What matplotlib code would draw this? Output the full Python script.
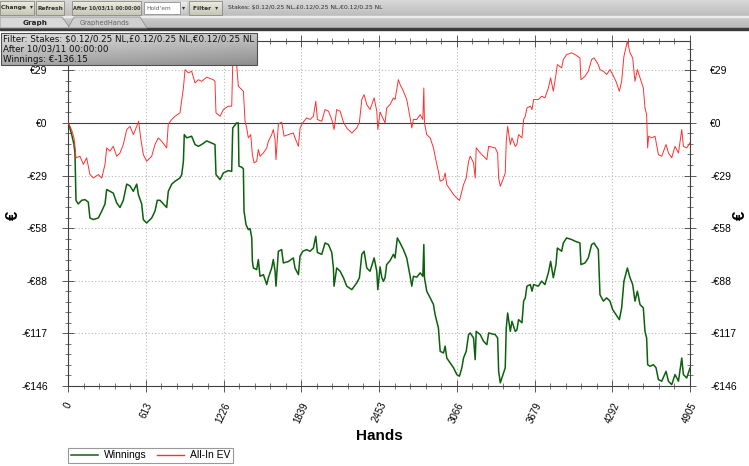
import numpy as np
import matplotlib
matplotlib.use("Agg")
import matplotlib.pyplot as plt
from matplotlib.patches import Rectangle, Polygon
from matplotlib.ticker import AutoMinorLocator

# dati (mani, euro)
hands_win = [0, 3, 29, 47, 55, 63, 81, 108, 134, 160, 173, 200, 239, 266, 292, 305, 331, 357, 384, 410,
             436, 463, 489, 515, 542, 555, 581, 594, 620, 660, 686, 704, 726, 752, 778, 791, 818, 844, 883, 897,
             910, 917, 936, 975, 1002, 1028, 1054, 1094, 1146, 1159, 1167, 1199, 1225, 1264, 1291, 1299, 1330, 1343, 1348, 1370,
             1383, 1388, 1404, 1422, 1436, 1449, 1454, 1462, 1488, 1501, 1514, 1541, 1567, 1580, 1606, 1619, 1633, 1640, 1659, 1685,
             1698, 1738, 1777, 1790, 1817, 1830, 1851, 1882, 1909, 1935, 1954, 1967, 2001, 2027, 2054, 2080, 2093, 2098, 2119, 2146,
             2172, 2198, 2238, 2277, 2298, 2317, 2335, 2356, 2382, 2414, 2435, 2443, 2461, 2475, 2488, 2500, 2513, 2540, 2566, 2579,
             2597, 2619, 2645, 2671, 2698, 2711, 2724, 2750, 2777, 2798, 2806, 2811, 2829, 2856, 2882, 2895, 2921, 2935, 2961, 2974,
             2987, 3014, 3040, 3066, 3087, 3106, 3119, 3140, 3159, 3172, 3198, 3211, 3219, 3251, 3277, 3303, 3317, 3369, 3388, 3396,
             3409, 3430, 3448, 3456, 3467, 3488, 3501, 3527, 3540, 3553, 3580, 3593, 3606, 3619, 3646, 3659, 3672, 3709, 3735, 3761,
             3788, 3806, 3827, 3848, 3859, 3893, 3906, 3932, 3972, 3998, 4037, 4045, 4077, 4103, 4129, 4148, 4182, 4195, 4222, 4248,
             4274, 4295, 4321, 4348, 4366, 4384, 4411, 4432, 4453, 4471, 4490, 4511, 4537, 4550, 4563, 4571, 4590, 4616, 4637, 4656,
             4682, 4716, 4735, 4761, 4787, 4814, 4840, 4853, 4879, 4905]
winnings = [0, 0, -6.5, -12, -16.7, -43, -45, -43, -42.6, -44, -52.8, -53.7, -52.8, -49, -45, -37, -38, -39, -44.4, -47,
            -43, -34, -35, -38, -34, -39.8, -45, -53.7, -55.6, -52.8, -49, -43, -43, -45, -47, -38, -34, -32.4, -30.6, -28.7,
            -21.3, -6.5, -8.3, -7.4, -12, -13, -12, -10, -11.6, -12, -28.7, -31.5, -27.8, -26.5, -26.9, -2.8, 0, 0, -24, -24.6,
            -25.5, -49, -56.5, -59.3, -58.7, -63.9, -76.9, -80.6, -81.5, -75.9, -85.2, -84.3, -89.8, -86, -80.6, -75.9, -82.4, -90.7, -71.3, -70.4,
            -77.8, -77, -75, -80.6, -84.3, -74, -71.3, -70.4, -71.3, -69.5, -63, -72, -73, -66.7, -67.6, -72, -80.6, -90.7, -80.6, -82.4,
            -86, -90.7, -92.6, -88.9, -86, -73, -71.3, -80.6, -82.4, -75, -82.4, -92.6, -80, -86, -88, -86, -78.7, -76.5, -73, -75,
            -63.9, -66.7, -70.4, -75, -85.2, -90.7, -85.2, -85.7, -83.3, -85.2, -67.6, -86, -93.5, -97.2, -100.9, -106.5, -113.9, -126.9, -127.8, -124,
            -130.6, -133.3, -136, -139.8, -140.7, -136, -130.6, -126.9, -117.6, -116.7, -119.5, -131.5, -115.8, -117.6, -121.3, -123.2, -116.7, -117.6, -119.5, -138,
            -144.4, -139.8, -136, -113.9, -105.6, -115.8, -110.2, -115.8, -115, -109.3, -111, -99, -97.2, -90.7, -89.8, -93.5, -89.8, -90.7, -87.9, -89.8,
            -83.3, -76.9, -86, -78.7, -69.5, -71.3, -66.7, -63.9, -64.8, -65.7, -66.7, -78.7, -77.8, -75, -67.6, -66.7, -70.4, -95.4, -99, -97.2,
            -99, -103.7, -106.5, -109.3, -102.8, -88, -80.6, -86, -89.8, -99, -93.5, -100.9, -102.8, -115.8, -119.5, -134.3, -135.2, -134.3, -136, -142.6,
            -143.5, -138, -143.5, -145.4, -139.8, -143.5, -130.6, -139.8, -141.7, -136.15]

hands_ev = [0, 3, 29, 47, 55, 63, 94, 121, 147, 173, 200, 239, 266, 292, 305, 331, 357, 384, 410, 436,
            463, 489, 515, 542, 557, 573, 594, 620, 660, 686, 712, 739, 778, 791, 818, 844, 883, 897, 910, 923,
            949, 975, 1002, 1028, 1054, 1094, 1146, 1159, 1167, 1199, 1225, 1264, 1291, 1299, 1317, 1330, 1343, 1370, 1383, 1396,
            1409, 1422, 1441, 1454, 1467, 1488, 1501, 1514, 1541, 1567, 1580, 1606, 1619, 1633, 1640, 1659, 1685, 1704, 1738, 1777,
            1790, 1817, 1830, 1851, 1882, 1909, 1935, 1954, 1967, 2001, 2027, 2054, 2080, 2098, 2119, 2146, 2172, 2198, 2238, 2277,
            2298, 2317, 2335, 2356, 2382, 2414, 2435, 2443, 2461, 2487, 2500, 2513, 2540, 2566, 2579, 2605, 2619, 2645, 2671, 2698,
            2711, 2724, 2750, 2777, 2798, 2806, 2811, 2829, 2856, 2882, 2903, 2921, 2935, 2961, 2974, 2987, 3014, 3040, 3066, 3087,
            3106, 3119, 3140, 3159, 3172, 3198, 3211, 3219, 3251, 3277, 3303, 3317, 3369, 3388, 3396, 3409, 3430, 3448, 3456, 3467,
            3488, 3501, 3527, 3540, 3553, 3580, 3593, 3606, 3619, 3646, 3659, 3672, 3709, 3735, 3761, 3788, 3806, 3827, 3848, 3859,
            3893, 3906, 3932, 3972, 3998, 4037, 4045, 4077, 4103, 4129, 4148, 4182, 4195, 4222, 4248, 4274, 4295, 4321, 4348, 4366,
            4384, 4411, 4432, 4453, 4471, 4490, 4511, 4537, 4550, 4563, 4571, 4579, 4603, 4629, 4656, 4682, 4716, 4735, 4761, 4787,
            4814, 4840, 4853, 4879, 4905]
allin_ev = [0, 0, -4, -8.3, -12.9, -19.4, -18.5, -23, -19.4, -28.7, -30.6, -28.7, -30.6, -23, -13.9, -15.7, -13, -18.5, -16.7, -12,
            -3.7, -1.9, -6.5, -1.9, 0.9, -8.3, -17.6, -21.3, -18.5, -12, -8.3, -10.2, -13.9, -0.6, 1.9, 3.7, 5.6, 12.9, 19.4, 29.6,
            27.8, 28.7, 22.2, 24, 23.1, 25.4, 24, 23, 5.6, 3.7, 7.4, 9.3, 9.3, 32.4, 40, 32.4, 20.4, 18.5, 17.6, 0.9,
            -2.8, -8.3, -6.5, -17.6, -22.2, -21.3, -14.8, -18.5, -16.7, -13.9, -10.2, -6.5, -3.7, -9.3, -20.4, -0.6, 0.4, -7.4, -6.5, -5.6,
            -8.3, -13, -2.8, 0, 2.8, 1.9, 3.7, 12, 1.9, 0.9, 7.4, 6.5, 1.9, -3.7, 7.4, 6.5, 0.4, -2.8, -5.6, -2.8,
            0.4, 13, 15.7, 10.2, 7.4, 13.9, 6.5, -3.7, 6, 1.9, 0, 8.3, 10.2, 13.9, 13, 24, 21.3, 17.6, 13, 2.8,
            -2.8, 1.9, 1.9, 4.6, 1.9, 19.4, 0, -6.5, -8.3, -13.9, -21.3, -26.9, -32.4, -31.5, -27.8, -34.3, -37, -39.8, -41.7, -43.1,
            -38, -34.3, -30.6, -21.3, -18.5, -22.2, -30.6, -13.9, -16.7, -18.5, -20.4, -13, -13.9, -16.7, -30.6, -35.2, -31.5, -27.8, -10.2, -1.9,
            -12, -8.3, -13, -12, -6.5, -8.3, 1.9, 3.7, 8.3, 9.3, 7.4, 13, 13, 14.8, 13.9, 19.4, 25, 17.6, 26.9, 32.4,
            30.6, 35.2, 38, 38.9, 38, 36.1, 24, 25.9, 28.7, 35.2, 36.1, 32.4, 29.6, 28.7, 26.9, 29.6, 26.9, 23.1, 17.6, 23.1,
            37, 45.4, 38.9, 36.1, 23.1, 29.6, 25, 19.4, 8.3, 4.6, -13.9, -7.4, -8.3, -7.4, -17.6, -18.5, -12, -16.7, -19.4, -13,
            -16.7, -3.7, -13, -13.9, -11]

x_tick_labels = ["0", "613", "1226", "1839", "2453", "3066", "3679", "4292", "4905"]
y_tick_labels = ["€29", "€0", "-€29", "-€58", "-€88", "-€117", "-€146"]
n_hands = 4905
y_min = -146.15

W, H = 749, 466
fig = plt.figure(figsize=(W / 100, H / 100), dpi=100)
fig.patch.set_facecolor("white")

ax = fig.add_axes([68 / W, 1 - 386 / H, 622 / W, 345 / H])
ax.plot(hands_win, winnings, color="#0d600d", lw=1.1, label="Winnings", zorder=3)
ax.plot(hands_ev, allin_ev, color="#ff3030", lw=0.7, label="All-In EV", zorder=3)
ax.axhline(0, color="#404040", lw=0.8, zorder=2)

ax.set_xlim(0, n_hands)
ax.set_ylim(y_min, 45.5)
ax.set_xticks(np.linspace(0, n_hands, len(x_tick_labels)))
ax.set_xticklabels(x_tick_labels, rotation=65, ha="center", va="top",
                   fontsize=7, family="Liberation Sans")
yt = [y_min * k / 5 for k in range(-1, 6)]
ax.set_yticks(yt)
ax.set_yticklabels(y_tick_labels, fontsize=7.5, family="Liberation Sans")
ax.xaxis.set_minor_locator(AutoMinorLocator(5))
ax.yaxis.set_minor_locator(AutoMinorLocator(5))
ax.tick_params(which="major", direction="inout", length=9, width=0.6, color="#404040",
               top=True, right=True, labelright=True, pad=4)
ax.tick_params(which="minor", direction="inout", length=4.5, width=0.5, color="#404040",
               top=True, right=True)
ax.tick_params(axis="y", which="major", pad=10)
ax.tick_params(axis="x", which="major", pad=6)
for s in ax.spines.values():
    s.set_color("#404040")
    s.set_linewidth(0.8)
ax.grid(True, which="major", ls=(0, (1, 2)), color="#b8b8b8", lw=0.8)
ax.set_xlabel("Hands", fontsize=11, fontweight="bold", family="Liberation Sans", labelpad=3)

fig.text(13 / W, 1 - 215 / H, "€", rotation=90, fontsize=12, fontweight="bold",
         family="Liberation Sans", ha="center", va="center")
fig.text(740 / W, 1 - 215 / H, "€", rotation=90, fontsize=12, fontweight="bold",
         family="Liberation Sans", ha="center", va="center")

leg = fig.legend(loc="lower left", bbox_to_anchor=(68 / W, 1 - 463 / H), ncol=2,
                 prop={"family": "Liberation Sans", "size": 7.5}, frameon=True,
                 fancybox=False, edgecolor="#808080", handlelength=2.6, columnspacing=1.0,
                 borderpad=0.25, handletextpad=0.6, borderaxespad=0)
leg.get_frame().set_linewidth(0.8)
leg.get_lines()[1].set_linewidth(1.0)

# barra strumenti e riquadro filtro, in pixel
ov = fig.add_axes([0, 0, 1, 1], facecolor="none")
ov.set_xlim(0, W)
ov.set_ylim(H, 0)
ov.axis("off")

def grad(x0, y0, x1, y1, c_top, c_bot):
    g = np.linspace(0, 1, 32)[:, None, None]
    img = (1 - g) * np.array(c_top)[None, None, :] + g * np.array(c_bot)[None, None, :]
    ov.imshow(img, extent=(x0, x1, y1, y0), aspect="auto", zorder=5)

grad(0, 0, W, 16, (0.85, 0.85, 0.85), (0.74, 0.74, 0.74))
ov.add_patch(Rectangle((0, 15.5), W, 1.5, color="#ececec", zorder=6))
grad(0, 17, W, 28, (0.80, 0.80, 0.80), (0.72, 0.72, 0.72))
ov.add_patch(Rectangle((0, 28), W, 1.6, color="#3a3a3a", zorder=6))

buttons = [(0, 34, "Change  ▾", 4.2), (36, 64, "Refresh", 4.2),
           (72, 141, "After 10/03/11 00:00:00", 3.6), (189, 222, "Filter  ▾", 4.2)]
for x0, x1, txt, fs in buttons:
    grad(x0, 1, x1, 15, (0.93, 0.93, 0.88), (0.78, 0.78, 0.72))
    ov.add_patch(Rectangle((x0, 1), x1 - x0, 14, fill=False, ec="#8a8a80", lw=0.6, zorder=7))
    ov.text((x0 + x1) / 2, 8, txt, fontsize=fs, fontweight="bold",
            ha="center", va="center", color="#303030", zorder=8)
ov.add_patch(Rectangle((144, 2), 36, 12, fc="white", ec="#909090", lw=0.6, zorder=7))
ov.text(146, 8, "Hold'em", fontsize=4.2, ha="left", va="center", color="#606060", zorder=8)
grad(180, 2, 187, 14, (0.93, 0.93, 0.93), (0.78, 0.78, 0.78))
ov.text(183.5, 8, "▾", fontsize=4.5, ha="center", va="center", color="#303030", zorder=8)
ov.text(228, 7.5, "Stakes: $0.12/0.25 NL,£0.12/0.25 NL,€0.12/0.25 NL", fontsize=4.3,
        ha="left", va="center", color="#303030", zorder=8)

ov.add_patch(Polygon([(0, 28), (0, 17), (62, 17), (70, 28)], closed=True,
                     fc="#d8d8d8", ec="#909090", lw=0.6, zorder=7))
ov.text(35, 23, "Graph", fontsize=5.2, fontweight="bold", ha="center", va="center",
        color="#202020", zorder=8)
ov.add_patch(Polygon([(68, 28), (74, 17), (140, 17), (147, 28)], closed=True,
                     fc="#cfcfcf", ec="#909090", lw=0.6, zorder=7))
ov.text(105, 23, "GraphedHands", fontsize=4.8, ha="center", va="center",
        color="#606060", zorder=8)

# riquadro filtro
g = np.linspace(0, 1, 32)
img = np.zeros((32, 64, 3))
for i in range(3):
    img[:, :, i] = 0.88 - 0.22 * g[:, None] - 0.10 * np.linspace(0, 1, 64)[None, :]
ov.imshow(img, extent=(1, 257, 65, 33), aspect="auto", zorder=9)
ov.add_patch(Rectangle((1, 33), 256, 32, fill=False, ec="#505050", lw=0.8, zorder=10))
filter_lines = ["Filter: Stakes: $0.12/0.25 NL,£0.12/0.25 NL,€0.12/0.25 NL",
                "After 10/03/11 00:00:00",
                "Winnings: €-136.15"]
for k, line in enumerate(filter_lines):
    ov.text(3, 39 + k * 10.5, line, fontsize=6.3, ha="left", va="center",
            color="#101010", zorder=11)

fig.savefig("out.png", dpi=100)
